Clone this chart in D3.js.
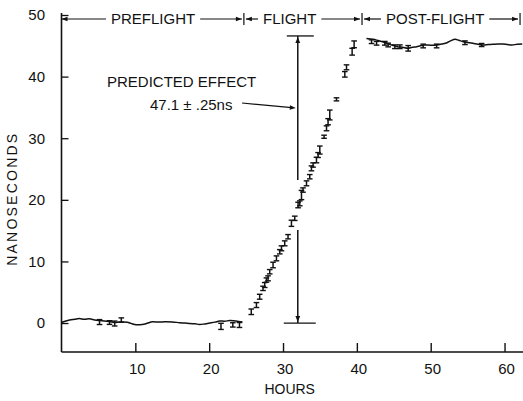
<!DOCTYPE html>
<html><head><meta charset="utf-8">
<script src="https://cdn.jsdelivr.net/npm/d3@7"></script>
<style>body{margin:0;background:#fff}svg{display:block}text{font-family:"Liberation Sans",Arial,sans-serif;fill:#111}</style>
</head><body>
<script>
// ---- data ----
const xTicks = [10, 20, 30, 40, 50, 60];
const yTicks = [0, 10, 20, 30, 40, 50];
const phaseLabels = ["PREFLIGHT", "FLIGHT", "POST-FLIGHT"];
const phaseBounds = [0, 24.7, 40.7, 62.1];
const phaseLabelCenters = [12.4, 30.9, 50.6];

const preLineHours = [0, 0.5, 1.1, 1.8, 2.4, 3.1, 3.8, 4.5, 5.2, 5.8, 6.5, 7.2, 7.9, 8.9, 9.4, 9.9, 10.6, 11.3, 11.8, 12.3, 13.2, 14.0, 15.0, 16.0, 16.7, 17.4, 18.1, 18.7, 19.4, 20.1, 20.8, 21.4, 22.1, 22.8, 23.6, 24.5];
const preLineNs    = [0.08, 0.3, 0.5, 0.62, 0.73, 0.6, 0.68, 0.5, 0.41, 0.35, 0.24, 0.1, 0.16, 0.14, -0.05, -0.24, -0.28, -0.16, 0.05, 0.21, 0.16, 0.21, 0.18, 0.05, 0.0, -0.08, -0.12, -0.24, -0.14, 0.0, 0.15, 0.32, 0.3, 0.41, 0.35, 0.16];
const preBarHours = [5.15, 6.5, 7.2, 8.1, 21.6, 23.2, 24.1];
const preBarNs    = [0.16, 0.08, -0.08, 0.49, -0.54, -0.3, -0.32];
const preBarErr   = [0.4, 0.3, 0.4, 0.35, 0.5, 0.35, 0.4];

const flightHours = [25.7, 26.4, 26.84, 27.29, 27.52, 27.75, 27.97, 28.2, 28.65, 29.11, 29.56, 29.79, 30.23, 30.68, 31.14, 31.59, 32.04, 32.27, 32.5, 32.71, 33.18, 33.62, 33.85, 34.07, 34.53, 34.75, 34.98, 35.56, 35.89, 36.1, 36.33, 37.24, 38.37, 38.6, 39.36, 39.63];
const flightNs    = [1.83, 2.92, 4.27, 5.63, 6.17, 6.98, 7.26, 8.33, 9.42, 10.5, 11.57, 12.13, 12.94, 14.01, 16.19, 17.0, 19.16, 19.43, 20.78, 21.59, 22.68, 23.75, 25.11, 25.65, 26.46, 27.27, 28.08, 30.24, 31.61, 32.68, 33.77, 36.31, 40.37, 41.51, 44.04, 45.24];
const flightErr   = [0.45, 0.4, 0.4, 0.35, 0.4, 0.35, 0.4, 0.35, 0.45, 0.4, 0.35, 0.4, 0.4, 0.35, 0.5, 0.35, 0.45, 0.4, 0.75, 0.35, 0.4, 0.35, 0.4, 0.35, 0.45, 0.4, 0.65, 0.25, 0.4, 0.5, 0.8, 0.25, 0.45, 0.4, 0.55, 0.55];

const postLineHours = [41.3, 42.2, 42.9, 43.5, 44.1, 44.7, 45.5, 46.2, 46.9, 47.5, 48.1, 48.6, 49.2, 50.0, 50.8, 51.5, 52.2, 52.7, 53.3, 53.8, 54.4, 55.0, 55.7, 56.4, 57.1, 57.8, 58.4, 59.1, 59.8, 60.4, 61.0, 61.7, 62.4];
const postLineNs    = [46.2, 46.06, 45.85, 45.67, 45.4, 45.13, 44.85, 44.75, 44.6, 44.75, 44.85, 45.0, 45.13, 45.1, 45.13, 45.3, 45.5, 45.8, 46.06, 45.9, 45.67, 45.55, 45.41, 45.25, 45.13, 45.2, 45.24, 45.3, 45.29, 45.2, 45.13, 45.25, 45.29];
const postBarHours = [41.99, 42.67, 43.79, 44.24, 45.15, 45.82, 46.95, 48.98, 50.8, 54.64, 56.9];
const postBarNs    = [45.67, 45.41, 45.41, 45.13, 44.85, 44.85, 44.59, 44.97, 44.97, 45.5, 45.13];
const postBarErr   = [0.3, 0.3, 0.3, 0.3, 0.3, 0.3, 0.45, 0.3, 0.3, 0.3, 0.25];

const predictedHour = 32;
const predictedRange = [0, 46.6];
const predictedGap = [15.1, 23.2];
const annotationLines = ["PREDICTED EFFECT", "47.1 \u00b1 .25ns"];

// ---- drawing ----
const W = 523, H = 401;
const x = d3.scaleLinear().domain([0, 62.5]).range([61.5, 523]);
const y = d3.scaleLinear().domain([-4.7, 50]).range([352, 15]);
const svg = d3.select("body").append("svg").attr("width", W).attr("height", H);
const ink = "#111";

function arrowHead(g, tipX, tipY, dir, len = 7, half = 2.6) {
  const c = Math.cos(dir), s = Math.sin(dir);
  const bx = tipX - c * len, by = tipY - s * len;
  g.append("path")
    .attr("d", `M${tipX},${tipY}L${bx - s * half},${by + c * half}L${bx + s * half},${by - c * half}Z`)
    .attr("fill", ink);
}

// axes
const yAxis = d3.axisRight(y).tickValues(yTicks).tickSize(7).tickFormat("");
const gy = svg.append("g").attr("transform", `translate(${x(0)},0)`).call(yAxis);
gy.select(".domain").remove();
gy.selectAll("line").attr("stroke", ink).attr("stroke-width", 1.3);
svg.append("line").attr("x1", x(0)).attr("x2", x(0)).attr("y1", 13).attr("y2", y(-4.7))
  .attr("stroke", ink).attr("stroke-width", 1.6);
svg.selectAll(".ylab").data(yTicks).enter().append("text")
  .attr("x", 45).attr("y", d => y(d)).attr("dy", "0.36em").attr("text-anchor", "end")
  .style("font-size", "15px").text(d => d);

const xAxis = d3.axisTop(x).tickValues(xTicks).tickSize(9).tickFormat("");
const gx = svg.append("g").attr("transform", `translate(0,${y(-4.7)})`).call(xAxis);
gx.select(".domain").remove();
gx.selectAll("line").attr("stroke", ink).attr("stroke-width", 1.4);
svg.append("line").attr("x1", x(0)).attr("x2", W).attr("y1", y(-4.7)).attr("y2", y(-4.7))
  .attr("stroke", ink).attr("stroke-width", 1.6);
svg.selectAll(".xlab").data(xTicks).enter().append("text")
  .attr("x", d => x(d) + 2).attr("y", 369).attr("dy", "0.36em").attr("text-anchor", "middle")
  .style("font-size", "15px").text(d => d);
svg.append("text").attr("x", x(30.9)).attr("y", 389).attr("dy", "0.36em")
  .attr("text-anchor", "middle").style("font-size", "14px").text("HOURS");
svg.append("text").attr("transform", `translate(12,${y(20)}) rotate(-90)`)
  .attr("dy", "0.36em").attr("text-anchor", "middle").style("font-size", "14px")
  .attr("textLength", 132).text("NANOSECONDS");

// phase header
const hy = 19;
const hg = svg.append("g");
phaseBounds.forEach((b, i) => {
  if (i === 0) return;
  hg.append("line").attr("x1", x(b)).attr("x2", x(b)).attr("y1", hy - 6).attr("y2", hy + 6)
    .attr("stroke", ink).attr("stroke-width", 1.2);
});
phaseLabels.forEach((lab, i) => {
  const t = hg.append("text").attr("x", x(phaseLabelCenters[i])).attr("y", hy).attr("dy", "0.36em")
    .attr("text-anchor", "middle").style("font-size", "15px").text(lab);
  const w = t.node().getComputedTextLength();
  const l0 = x(phaseBounds[i]) + (i === 0 ? 0 : 2), l1 = x(phaseLabelCenters[i]) - w / 2 - 5;
  const r0 = x(phaseLabelCenters[i]) + w / 2 + 5, r1 = x(phaseBounds[i + 1]) - 2;
  hg.append("line").attr("x1", l0).attr("x2", l1).attr("y1", hy).attr("y2", hy).attr("stroke", ink).attr("stroke-width", 1.2);
  hg.append("line").attr("x1", r0).attr("x2", r1).attr("y1", hy).attr("y2", hy).attr("stroke", ink).attr("stroke-width", 1.2);
  arrowHead(hg, l0, hy, Math.PI, 6, 2.2);
  arrowHead(hg, r1, hy, 0, 6, 2.2);
});

// wiggly lines
const line = d3.line().x(d => x(d[0])).y(d => y(d[1])).curve(d3.curveCatmullRom);
svg.append("path").datum(d3.zip(preLineHours, preLineNs)).attr("d", line)
  .attr("fill", "none").attr("stroke", ink).attr("stroke-width", 1.5);
svg.append("path").datum(d3.zip(postLineHours, postLineNs)).attr("d", line)
  .attr("fill", "none").attr("stroke", ink).attr("stroke-width", 1.5);

// error bars
function bars(hours, vals, errs) {
  const g = svg.append("g");
  hours.forEach((h, i) => {
    const cx = x(h), top = y(vals[i] + errs[i]), bot = y(vals[i] - errs[i]);
    g.append("line").attr("x1", cx).attr("x2", cx).attr("y1", top).attr("y2", bot).attr("stroke", ink).attr("stroke-width", 1.5);
    [top, bot].forEach(v => g.append("line").attr("x1", cx - 2.8).attr("x2", cx + 2.8).attr("y1", v).attr("y2", v)
      .attr("stroke", ink).attr("stroke-width", 1.4));
  });
}
bars(preBarHours, preBarNs, preBarErr);
bars(flightHours, flightNs, flightErr);
bars(postBarHours, postBarNs, postBarErr);

// predicted effect
const px = x(predictedHour);
const pg = svg.append("g");
pg.append("line").attr("x1", px).attr("x2", px).attr("y1", y(predictedRange[1])).attr("y2", y(predictedGap[1]))
  .attr("stroke", ink).attr("stroke-width", 1.5);
pg.append("line").attr("x1", px).attr("x2", px).attr("y1", y(predictedGap[0])).attr("y2", y(predictedRange[0]))
  .attr("stroke", ink).attr("stroke-width", 1.5);
pg.append("line").attr("x1", px - 11).attr("x2", px + 16).attr("y1", y(predictedRange[1])).attr("y2", y(predictedRange[1]))
  .attr("stroke", ink).attr("stroke-width", 1.3);
pg.append("line").attr("x1", px - 14).attr("x2", px + 18).attr("y1", y(predictedRange[0])).attr("y2", y(predictedRange[0]))
  .attr("stroke", ink).attr("stroke-width", 1.3);
arrowHead(pg, px, y(predictedRange[1]) + 1, -Math.PI / 2, 6, 2.4);
arrowHead(pg, px, y(predictedRange[0]) - 1, Math.PI / 2, 6, 2.4);

svg.append("text").attr("x", 107).attr("y", 87).style("font-size", "15px").text(annotationLines[0]);
svg.append("text").attr("x", 150).attr("y", 110).style("font-size", "15px").text(annotationLines[1]);
pg.append("line").attr("x1", 242).attr("x2", px - 6).attr("y1", 103).attr("y2", 107.6)
  .attr("stroke", ink).attr("stroke-width", 1.2);
arrowHead(pg, px - 2, 108, Math.atan2(5, px - 244), 6, 2.3);
</script>
</body></html>
